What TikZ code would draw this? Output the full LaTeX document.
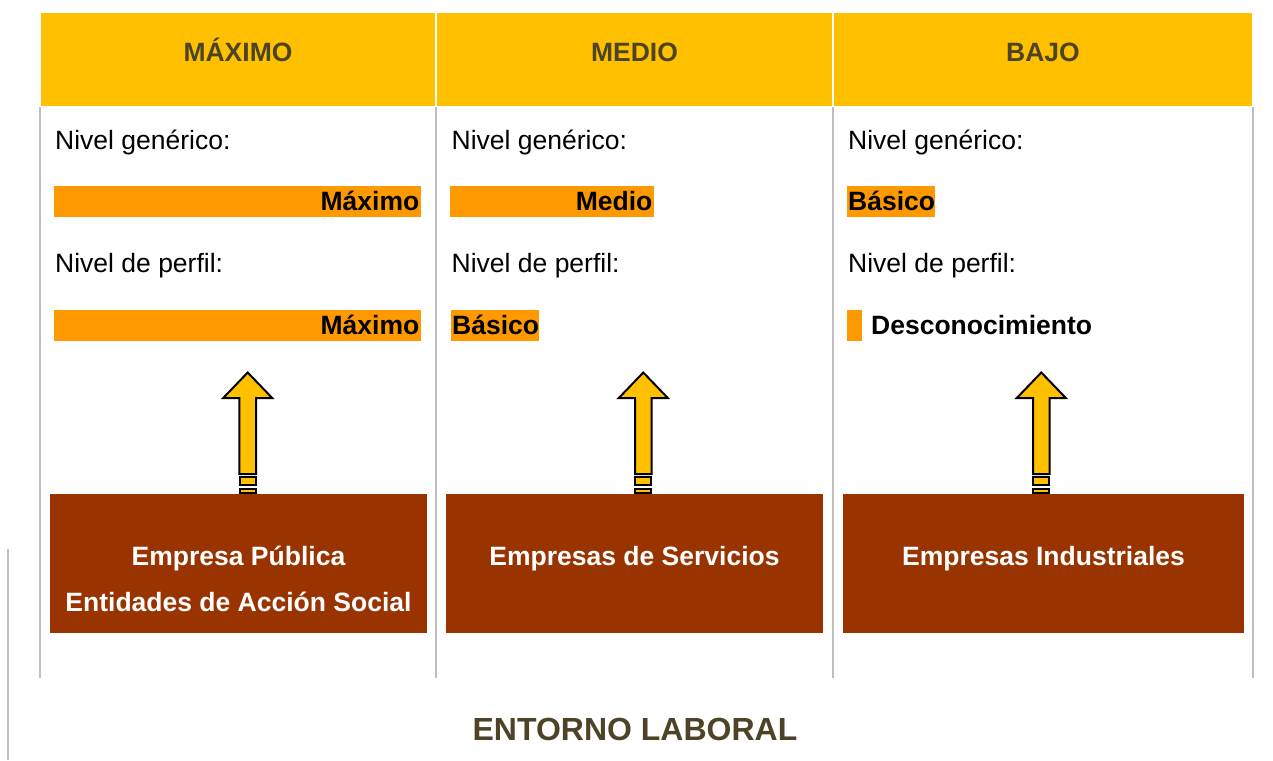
\documentclass[tikz,border=0pt]{standalone}
\usepackage{fontspec}
\setmainfont{Liberation Sans}
\definecolor{cYellow}{HTML}{FFC000}
\definecolor{cOrange}{HTML}{FF9900}
\definecolor{cBrown}{HTML}{993300}
\definecolor{cOlive}{HTML}{4D4427}
\definecolor{cGray}{HTML}{BFBFBF}
\newcommand{\txtsize}{\fontsize{26.5}{30}\selectfont}
\begin{document}
\begin{tikzpicture}[x=1pt,y=-1pt,
  hdrbox/.style={fill=cYellow, draw=none, inner sep=0pt, anchor=north west, minimum height=93},
  hdrtext/.style={font=\bfseries\txtsize, text=cOlive, anchor=base, inner sep=0pt},
  lbl/.style={font=\txtsize, anchor=base west, inner sep=0pt},
  bar/.style={fill=cOrange, draw=none, inner sep=0pt, anchor=north west, minimum height=31},
  bartext/.style={font=\bfseries\txtsize, inner sep=0pt},
  sector/.style={fill=cBrown, draw=none, inner sep=0pt, anchor=north west, minimum height=139},
  sectortext/.style={font=\bfseries\txtsize, text=white, anchor=base, inner sep=0pt},
  divider/.style={draw=cGray, line width=2pt},
  blockarrow/.style={draw=black, line width=2pt, fill=cYellow, line join=miter},
  uparrow/.pic={
    \path[blockarrow] (0,-121.5) -- (24.5,-96) -- (8.3,-96) -- (8.3,-20) -- (-8.3,-20) -- (-8.3,-96) -- (-24.5,-96) -- cycle;
    \path[blockarrow] (-8,-17) rectangle (8,-9.5);
    \path[blockarrow] (-8,-5.5) rectangle (8,-1.5);
  }
]
\useasboundingbox (0,0) rectangle (1273,760);

% dividers
\draw[divider] (39.5,107) -- (39.5,678);
\draw[divider] (435.5,107) -- (435.5,678);
\draw[divider] (833,107) -- (833,678);
\draw[divider] (1252.5,107) -- (1252.5,678);
\draw[divider] (8,549) -- (8,760);

% headers
\node[hdrbox, minimum width=394] (h1) at (41,13) {};
\node[hdrbox, minimum width=395] (h2) at (437,13) {};
\node[hdrbox, minimum width=418] (h3) at (834,13) {};
\node[hdrtext] (ht1) at (238,61.5) {MÁXIMO};
\node[hdrtext] (ht2) at (634.5,61.5) {MEDIO};
\node[hdrtext] (ht3) at (1043,61.5) {BAJO};

% column 1
\node[lbl] (g1) at (55,149.3) {Nivel genérico:};
\node[bar, minimum width=367] (b1a) at (54,185.5) {};
\node[bartext, anchor=base east] (t1a) at (419.5,210.7) {Máximo};
\node[lbl] (p1) at (55,272.7) {Nivel de perfil:};
\node[bar, minimum width=367] (b1b) at (54,309.5) {};
\node[bartext, anchor=base east] (t1b) at (419.5,334.5) {Máximo};

% column 2
\node[lbl] (g2) at (451.5,149.3) {Nivel genérico:};
\node[bar, minimum width=204] (b2a) at (450,185.5) {};
\node[bartext, anchor=base east] (t2a) at (652.5,210.7) {Medio};
\node[lbl] (p2) at (451.5,272.7) {Nivel de perfil:};
\node[bar, minimum width=88] (b2b) at (451,309.5) {};
\node[bartext, anchor=base west] (t2b) at (452,334.5) {Básico};

% column 3
\node[lbl] (g3) at (848,149.3) {Nivel genérico:};
\node[bar, minimum width=88] (b3a) at (847,185.5) {};
\node[bartext, anchor=base west] (t3a) at (848,210.7) {Básico};
\node[lbl] (p3) at (848,272.7) {Nivel de perfil:};
\node[bar, minimum width=15] (b3b) at (847,309.5) {};
\node[bartext, anchor=base west] (t3b) at (871,334.5) {Desconocimiento};

% sector boxes
\node[sector, minimum width=377] (s1) at (50,494) {};
\node[sector, minimum width=377] (s2) at (446,494) {};
\node[sector, minimum width=401] (s3) at (843,494) {};
\node[sectortext] (st1a) at (238.5,565) {Empresa Pública};
\node[sectortext] (st1b) at (238.5,611) {Entidades de Acción Social};
\node[sectortext] (st2) at (634.5,565) {Empresas de Servicios};
\node[sectortext] (st3) at (1043.5,565) {Empresas Industriales};

% arrows
\pic at (247.7,494) {uparrow};
\pic at (643.3,494) {uparrow};
\pic at (1041.3,494) {uparrow};

% footer
\node[hdrtext, font=\bfseries\fontsize{32}{36}\selectfont] (foot) at (635,740) {ENTORNO LABORAL};
\end{tikzpicture}
\end{document}
